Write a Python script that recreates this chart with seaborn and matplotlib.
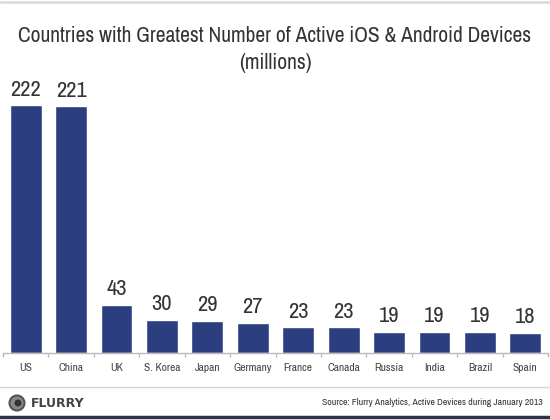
import matplotlib
matplotlib.use("Agg")
import matplotlib.pyplot as plt
import seaborn as sns
import pandas as pd
from matplotlib import font_manager
from matplotlib.lines import Line2D
from matplotlib.patches import Ellipse

# Data
countries = ["US", "China", "UK", "S. Korea", "Japan", "Germany",
             "France", "Canada", "Russia", "India", "Brazil", "Spain"]
devices = [222, 221, 43, 30, 29, 27, 23, 23, 19, 19, 19, 18]

title1 = "Countries with Greatest Number of Active iOS & Android Devices"
title2 = "(millions)"
source = "Source: Flurry Analytics, Active Devices during January 2013"

df = pd.DataFrame({"country": countries, "devices": devices})

sns.set_theme(style="white")
# the original uses a narrow sans; take one if the system has it
narrow = None
for f in font_manager.fontManager.ttflist:
    if "Narrow" in f.name or "Condensed" in f.name:
        narrow = f.name
        break
base = narrow if narrow else "Liberation Sans"
plt.rcParams["font.family"] = [base, "DejaVu Sans"]

bar_col = "#2b3f80"
txt_col = "#333333"

fig = plt.figure(figsize=(5.5, 4.19), dpi=100)
ax = fig.add_axes([3 / 550, 1 - 353 / 419, 545 / 550, 279 / 419])

sns.barplot(data=df, x="country", y="devices", color=bar_col, width=0.7,
            saturation=1, ax=ax)
ax.set_xlim(-0.5, len(countries) - 0.5)
ax.set_ylim(0, 250)

vals = []
for i, v in enumerate(devices):
    vals.append(ax.text(i, v + 5, str(v), ha="center", va="bottom",
                        fontsize=15.5, color=txt_col))

# axis styling
for s in ["top", "right", "left"]:
    ax.spines[s].set_visible(False)
ax.spines["bottom"].set_color("#bbbbbb")
ax.spines["bottom"].set_linewidth(1)
ax.set_yticks([])
ax.set_xlabel("")
ax.set_ylabel("")
ax.set_xticks(range(len(countries)))
ax.set_xticklabels(countries, fontsize=8.5, color="#444444")
ax.tick_params(axis="x", length=0, pad=7)
# small ticks between categories
ax.set_xticks([i + 0.5 for i in range(-1, len(countries))], minor=True)
ax.tick_params(axis="x", which="minor", length=3, color="#bbbbbb", bottom=True)

t1 = fig.text(0.5, 1 - 36 / 419, title1, ha="center", va="center", fontsize=16,
              color=txt_col)
t2 = fig.text(0.5, 1 - 63 / 419, title2, ha="center", va="center", fontsize=16,
              color=txt_col)

# frame lines
fig.add_artist(Line2D([0, 1], [1 - 2 / 419, 1 - 2 / 419], color="#dddddd", lw=2))
fig.add_artist(Line2D([0, 1], [1 - 387 / 419, 1 - 387 / 419], color="#d5d5d5", lw=1))
fig.add_artist(Line2D([0, 1], [1 - 417 / 419, 1 - 417 / 419], color="#26364a", lw=2.5))

# footer logo
cx, cy = 17 / 550, 1 - 403 / 419
fig.patches.append(Ellipse((cx, cy), 15 / 550, 15 / 419, transform=fig.transFigure,
                           facecolor="#888888", edgecolor="#555555", lw=1.5, figure=fig))
fig.patches.append(Ellipse((cx + 1 / 550, cy), 7 / 550, 7 / 419, transform=fig.transFigure,
                           facecolor="#333333", edgecolor="none", figure=fig))
fig.text(31 / 550, cy, "FLURRY", ha="left", va="center", fontsize=9,
         fontweight="bold", color="#444444", family=["DejaVu Sans"])
src = fig.text(543 / 550, 1 - 402 / 419, source, ha="right", va="center", fontsize=7,
               color=txt_col)

# fit text widths to those measured on the original
fig.canvas.draw()
r = fig.canvas.get_renderer()


def fit(t, width_px):
    w = t.get_window_extent(r).width
    t.set_fontsize(t.get_fontsize() * width_px / w)


fit(t1, 516)
t2.set_fontsize(t1.get_fontsize())
fit(src, 221)
g = [l for l in ax.get_xticklabels() if l.get_text() == "Germany"][0]
w = g.get_window_extent(r).width
for l in ax.get_xticklabels():
    l.set_fontsize(l.get_fontsize() * 39 / w)
w222 = vals[0].get_window_extent(r).width
for v in vals:
    v.set_fontsize(v.get_fontsize() * 31 / w222)

fig.savefig("out.png", dpi=100)
